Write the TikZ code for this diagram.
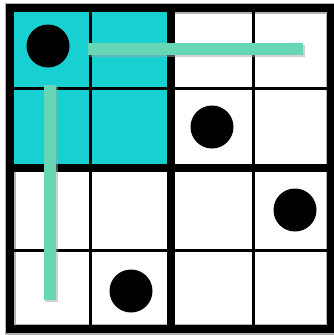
\documentclass[tikz,border=0pt]{standalone}
\definecolor{cyanfill}{RGB}{24,208,210}
\definecolor{mint}{RGB}{102,214,180}
\begin{document}
\begin{tikzpicture}[x=1pt,y=-1pt,
  gridthin/.style={line width=3pt,black},
  gridthick/.style={line width=8pt,black},
  dot/.style={circle,fill=black,minimum size=43pt,inner sep=0pt},
  mintline/.style={mint,line width=12.5pt},
  mintshadow/.style={black!35,opacity=0.5,line width=12.5pt}]
\useasboundingbox (0,0) rectangle (334,335);
% outer faint shadow frame
\draw[black!30,line width=11pt] (10,8) rectangle (331,329);
\fill[cyanfill] (10,8) rectangle (171,168);
% thin grid lines
\draw[gridthin] (90,8) -- (90,329);
\draw[gridthin] (253,8) -- (253,329);
\draw[gridthin] (10,88) -- (331,88);
\draw[gridthin] (10,250) -- (331,250);
% thick centre lines
\draw[gridthick] (171,8) -- (171,329);
\draw[gridthick] (10,168) -- (331,168);
% border
\draw[line width=7.5pt] (10,8) rectangle (331,329);
% dots
\node[dot] (d1) at (48,46) {};
\node[dot] (d2) at (212,127) {};
\node[dot] (d3) at (295,210) {};
\node[dot] (d4) at (131,291) {};
% mint lines
\coordinate (h1) at (88,49);
\coordinate (h2) at (303,49);
\coordinate (v1) at (50,85);
\coordinate (v2) at (50,300);
\draw[mintshadow] ([shift={(1.5,2)}]h1) -- ([shift={(1.5,2)}]h2);
\draw[mintshadow] ([shift={(1.5,2)}]v1) -- ([shift={(1.5,2)}]v2);
\draw[mintline] (h1) -- (h2);
\draw[mintline] (v1) -- (v2);
\end{tikzpicture}
\end{document}
